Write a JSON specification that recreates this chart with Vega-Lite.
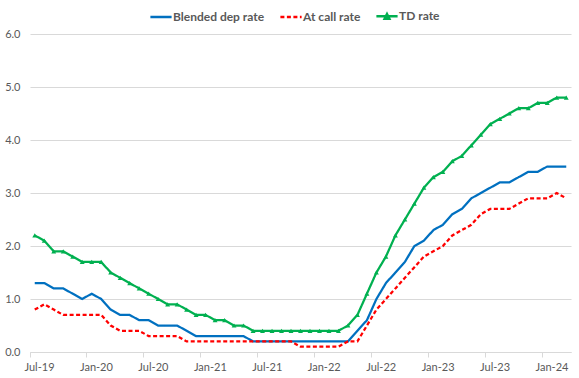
{
  "$schema": "https://vega.github.io/schema/vega-lite/v6.json",
  "width": 541,
  "height": 318,
  "autosize": {"type": "none"},
  "padding": {"left": 30, "top": 34, "right": 8, "bottom": 26},
  "background": "white",
  "config": {"view": {"stroke": null}, "font": "Lato"},
  "data": {"values": [
    {"month": "Jul-19", "Blended dep rate": 1.3, "At call rate": 0.8, "TD rate": 2.2},
    {"month": "Aug-19", "Blended dep rate": 1.3, "At call rate": 0.9, "TD rate": 2.1},
    {"month": "Sep-19", "Blended dep rate": 1.2, "At call rate": 0.8, "TD rate": 1.9},
    {"month": "Oct-19", "Blended dep rate": 1.2, "At call rate": 0.7, "TD rate": 1.9},
    {"month": "Nov-19", "Blended dep rate": 1.1, "At call rate": 0.7, "TD rate": 1.8},
    {"month": "Dec-19", "Blended dep rate": 1.0, "At call rate": 0.7, "TD rate": 1.7},
    {"month": "Jan-20", "Blended dep rate": 1.1, "At call rate": 0.7, "TD rate": 1.7},
    {"month": "Feb-20", "Blended dep rate": 1.0, "At call rate": 0.7, "TD rate": 1.7},
    {"month": "Mar-20", "Blended dep rate": 0.8, "At call rate": 0.5, "TD rate": 1.5},
    {"month": "Apr-20", "Blended dep rate": 0.7, "At call rate": 0.4, "TD rate": 1.4},
    {"month": "May-20", "Blended dep rate": 0.7, "At call rate": 0.4, "TD rate": 1.3},
    {"month": "Jun-20", "Blended dep rate": 0.6, "At call rate": 0.4, "TD rate": 1.2},
    {"month": "Jul-20", "Blended dep rate": 0.6, "At call rate": 0.3, "TD rate": 1.1},
    {"month": "Aug-20", "Blended dep rate": 0.5, "At call rate": 0.3, "TD rate": 1.0},
    {"month": "Sep-20", "Blended dep rate": 0.5, "At call rate": 0.3, "TD rate": 0.9},
    {"month": "Oct-20", "Blended dep rate": 0.5, "At call rate": 0.3, "TD rate": 0.9},
    {"month": "Nov-20", "Blended dep rate": 0.4, "At call rate": 0.2, "TD rate": 0.8},
    {"month": "Dec-20", "Blended dep rate": 0.3, "At call rate": 0.2, "TD rate": 0.7},
    {"month": "Jan-21", "Blended dep rate": 0.3, "At call rate": 0.2, "TD rate": 0.7},
    {"month": "Feb-21", "Blended dep rate": 0.3, "At call rate": 0.2, "TD rate": 0.6},
    {"month": "Mar-21", "Blended dep rate": 0.3, "At call rate": 0.2, "TD rate": 0.6},
    {"month": "Apr-21", "Blended dep rate": 0.3, "At call rate": 0.2, "TD rate": 0.5},
    {"month": "May-21", "Blended dep rate": 0.3, "At call rate": 0.2, "TD rate": 0.5},
    {"month": "Jun-21", "Blended dep rate": 0.2, "At call rate": 0.2, "TD rate": 0.4},
    {"month": "Jul-21", "Blended dep rate": 0.2, "At call rate": 0.2, "TD rate": 0.4},
    {"month": "Aug-21", "Blended dep rate": 0.2, "At call rate": 0.2, "TD rate": 0.4},
    {"month": "Sep-21", "Blended dep rate": 0.2, "At call rate": 0.2, "TD rate": 0.4},
    {"month": "Oct-21", "Blended dep rate": 0.2, "At call rate": 0.2, "TD rate": 0.4},
    {"month": "Nov-21", "Blended dep rate": 0.2, "At call rate": 0.1, "TD rate": 0.4},
    {"month": "Dec-21", "Blended dep rate": 0.2, "At call rate": 0.1, "TD rate": 0.4},
    {"month": "Jan-22", "Blended dep rate": 0.2, "At call rate": 0.1, "TD rate": 0.4},
    {"month": "Feb-22", "Blended dep rate": 0.2, "At call rate": 0.1, "TD rate": 0.4},
    {"month": "Mar-22", "Blended dep rate": 0.2, "At call rate": 0.1, "TD rate": 0.4},
    {"month": "Apr-22", "Blended dep rate": 0.2, "At call rate": 0.2, "TD rate": 0.5},
    {"month": "May-22", "Blended dep rate": 0.4, "At call rate": 0.2, "TD rate": 0.7},
    {"month": "Jun-22", "Blended dep rate": 0.6, "At call rate": 0.5, "TD rate": 1.1},
    {"month": "Jul-22", "Blended dep rate": 1.0, "At call rate": 0.8, "TD rate": 1.5},
    {"month": "Aug-22", "Blended dep rate": 1.3, "At call rate": 1.0, "TD rate": 1.8},
    {"month": "Sep-22", "Blended dep rate": 1.5, "At call rate": 1.2, "TD rate": 2.2},
    {"month": "Oct-22", "Blended dep rate": 1.7, "At call rate": 1.4, "TD rate": 2.5},
    {"month": "Nov-22", "Blended dep rate": 2.0, "At call rate": 1.6, "TD rate": 2.8},
    {"month": "Dec-22", "Blended dep rate": 2.1, "At call rate": 1.8, "TD rate": 3.1},
    {"month": "Jan-23", "Blended dep rate": 2.3, "At call rate": 1.9, "TD rate": 3.3},
    {"month": "Feb-23", "Blended dep rate": 2.4, "At call rate": 2.0, "TD rate": 3.4},
    {"month": "Mar-23", "Blended dep rate": 2.6, "At call rate": 2.2, "TD rate": 3.6},
    {"month": "Apr-23", "Blended dep rate": 2.7, "At call rate": 2.3, "TD rate": 3.7},
    {"month": "May-23", "Blended dep rate": 2.9, "At call rate": 2.4, "TD rate": 3.9},
    {"month": "Jun-23", "Blended dep rate": 3.0, "At call rate": 2.6, "TD rate": 4.1},
    {"month": "Jul-23", "Blended dep rate": 3.1, "At call rate": 2.7, "TD rate": 4.3},
    {"month": "Aug-23", "Blended dep rate": 3.2, "At call rate": 2.7, "TD rate": 4.4},
    {"month": "Sep-23", "Blended dep rate": 3.2, "At call rate": 2.7, "TD rate": 4.5},
    {"month": "Oct-23", "Blended dep rate": 3.3, "At call rate": 2.8, "TD rate": 4.6},
    {"month": "Nov-23", "Blended dep rate": 3.4, "At call rate": 2.9, "TD rate": 4.6},
    {"month": "Dec-23", "Blended dep rate": 3.4, "At call rate": 2.9, "TD rate": 4.7},
    {"month": "Jan-24", "Blended dep rate": 3.5, "At call rate": 2.9, "TD rate": 4.7},
    {"month": "Feb-24", "Blended dep rate": 3.5, "At call rate": 3.0, "TD rate": 4.8},
    {"month": "Mar-24", "Blended dep rate": 3.5, "At call rate": 2.9, "TD rate": 4.8}
  ]},
  "transform": [
    {"fold": ["Blended dep rate", "At call rate", "TD rate"], "as": ["series", "rate"]}
  ],
  "encoding": {
    "x": {
      "field": "month", "type": "ordinal", "sort": null,
      "scale": {"type": "band", "paddingInner": 0, "paddingOuter": 0},
      "axis": {
        "title": null,
        "values": ["Jul-19", "Jan-20", "Jul-20", "Jan-21", "Jul-21", "Jan-22", "Jul-22", "Jan-23", "Jul-23", "Jan-24"],
        "bandPosition": 0,
        "labelOffset": 4.75,
        "labelAngle": 0,
        "grid": false,
        "domainColor": "#d9d9d9",
        "tickColor": "#d9d9d9",
        "tickSize": 5,
        "labelColor": "#595959",
        "labelFontSize": 11,
        "labelPadding": 4
      }
    },
    "y": {
      "field": "rate", "type": "quantitative",
      "scale": {"domain": [0, 6], "nice": false},
      "axis": {
        "title": null,
        "values": [0, 1, 2, 3, 4, 5, 6],
        "format": ".1f",
        "domain": false,
        "ticks": false,
        "gridColor": "#d9d9d9",
        "labelColor": "#595959",
        "labelFontSize": 11,
        "labelPadding": 10
      }
    }
  },
  "layer": [
    {
      "mark": {"type": "line", "strokeWidth": 2.25},
      "encoding": {
        "color": {
          "field": "series", "type": "nominal",
          "scale": {"domain": ["Blended dep rate", "At call rate", "TD rate"], "range": ["#0070C0", "#FF0000", "#00B050"]},
          "legend": {
            "title": null,
            "orient": "none",
            "direction": "horizontal",
            "legendX": 119,
            "legendY": -30,
            "padding": 0,
            "symbolType": "stroke",
            "symbolSize": 450,
            "symbolStrokeWidth": 2.5,
            "labelFontSize": 12,
            "labelFontWeight": "bold",
            "labelColor": "#595959",
            "labelOffset": 0,
            "columnPadding": 10,
            "encode": {
              "symbols": {
                "update": {
                  "shape": {"signal": "datum.value === 'TD rate' ? 'M-1,0H1M-0.22,0.22L0,-0.22L0.22,0.22Z' : 'stroke'"},
                  "fill": {"signal": "datum.value === 'TD rate' ? '#00B050' : 'transparent'"}
                }
              }
            }
          }
        },
        "strokeDash": {
          "field": "series", "type": "nominal",
          "scale": {"domain": ["Blended dep rate", "At call rate", "TD rate"], "range": [[1, 0], [4, 2.5], [1, 0]]},
          "legend": null
        }
      }
    },
    {
      "transform": [{"filter": "datum.series === 'TD rate'"}],
      "mark": {"type": "point", "shape": "triangle-up", "filled": true, "size": 24, "color": "#00B050", "opacity": 1},
      "encoding": {}
    }
  ]
}
